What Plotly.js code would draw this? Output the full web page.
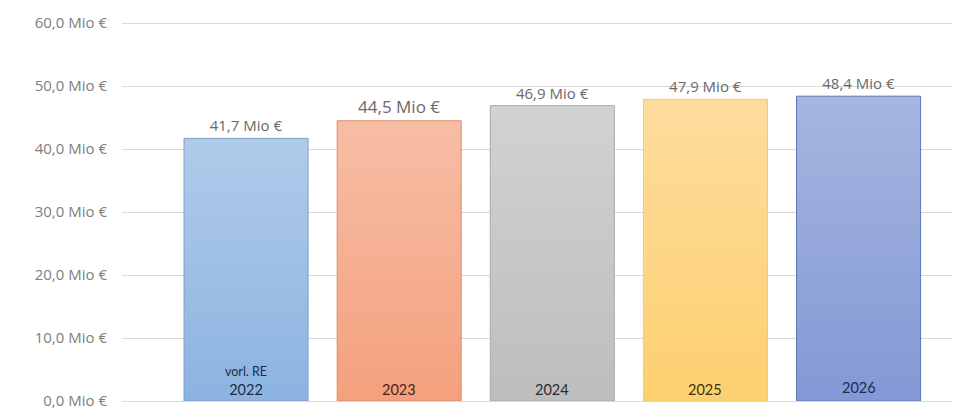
<!DOCTYPE html>
<html>
<head>
<meta charset="utf-8">
<script src="https://cdn.plot.ly/plotly-3.0.1.min.js"></script>
<style>html,body{margin:0;padding:0;background:#fff;}#chart{width:965px;height:417px;}</style>
</head>
<body>
<div id="chart"></div>
<script>
// Data
var categories = ["2022", "2023", "2024", "2025", "2026"];
var subLabels = ["vorl. RE", "", "", "", ""];
var values = [41.7, 44.5, 46.9, 47.9, 48.4];
var yTicks = [0, 10, 20, 30, 40, 50, 60];
var yTickLabels = ["0,0 Mio €", "10,0 Mio €", "20,0 Mio €", "30,0 Mio €", "40,0 Mio €", "50,0 Mio €", "60,0 Mio €"];
var valueLabels = ["41,7 Mio €", "44,5 Mio €", "46,9 Mio €", "47,9 Mio €", "48,4 Mio €"];

// Styles
var topColors = ["#b0cbea", "#f7bda5", "#d2d2d2", "#fddc9e", "#a6b6e0"];
var bottomColors = ["#8cb3e0", "#f4a07d", "#bdbdbd", "#fdd06f", "#8398d5"];
var lineColors = ["#7d9fcc", "#dc8f6c", "#a9a9a9", "#f2cf5c", "#5d76b5"];
var labelColors = ["#1d2b4a", "#4a2416", "#2b2b2b", "#3e2f10", "#1f2c4f"];
var valueFontSizes = [15, 17, 15, 15, 15];
var labelShift = [1, 1, 1, 1, 3];
var FONT = "'Open Sans', Lato, sans-serif";
var CAT_FONT = "Lato, 'Open Sans', sans-serif";

var trace = {
  type: "bar",
  x: categories,
  y: values,
  width: 0.81,
  marker: {color: topColors, line: {color: lineColors, width: 1}},
  text: valueLabels,
  texttemplate: "%{text}",
  textposition: "outside",
  cliponaxis: false,
  textfont: {family: FONT, size: valueFontSizes, color: "#6a6a6a"},
  hoverinfo: "skip"
};

var annotations = [];
for (var i = 0; i < categories.length; i++) {
  var txt = subLabels[i] ? "<span style='font-size:12.5px'>" + subLabels[i] + "</span><br>" + categories[i] : categories[i];
  annotations.push({
    x: i, y: 0, xref: "x", yref: "y",
    yanchor: "bottom", yshift: labelShift[i], showarrow: false,
    text: txt,
    font: {family: CAT_FONT, size: 14.5, color: labelColors[i]},
    align: "center"
  });
}

var layout = {
  width: 965, height: 417,
  margin: {l: 122, r: 13, t: 20, b: 16},
  paper_bgcolor: "#fff", plot_bgcolor: "#fff",
  showlegend: false,
  font: {family: FONT, color: "#808080"},
  xaxis: {type: "category", range: [-0.81, 4.61], showticklabels: false, showgrid: false, zeroline: false, ticks: "", fixedrange: true},
  yaxis: {
    range: [0, 60.5], tickmode: "array", tickvals: yTicks, ticktext: yTickLabels,
    showgrid: true, gridcolor: "#d9d9d9", gridwidth: 1,
    zeroline: true, zerolinecolor: "#d9d9d9", zerolinewidth: 1,
    ticks: "", ticklabelstandoff: 14,
    tickfont: {family: FONT, size: 15, color: "#808080"}, fixedrange: true
  },
  annotations: annotations
};

Plotly.newPlot("chart", [trace], layout, {displayModeBar: false, staticPlot: true}).then(function(gd) {
  var svg = gd.querySelector("svg.main-svg");
  var ns = "http://www.w3.org/2000/svg";
  var defs = svg.querySelector("defs") || svg.insertBefore(document.createElementNS(ns, "defs"), svg.firstChild);
  for (var i = 0; i < categories.length; i++) {
    var g = document.createElementNS(ns, "linearGradient");
    g.setAttribute("id", "barGrad" + i);
    g.setAttribute("x1", "0"); g.setAttribute("y1", "0");
    g.setAttribute("x2", "0"); g.setAttribute("y2", "1");
    var s1 = document.createElementNS(ns, "stop");
    s1.setAttribute("offset", "0"); s1.setAttribute("stop-color", topColors[i]);
    var s2 = document.createElementNS(ns, "stop");
    s2.setAttribute("offset", "1"); s2.setAttribute("stop-color", bottomColors[i]);
    g.appendChild(s1); g.appendChild(s2);
    defs.appendChild(g);
  }
  var paths = gd.querySelectorAll(".barlayer .point path");
  paths.forEach(function(p, i) { p.style.fill = "url(#barGrad" + i + ")"; });
});
</script>
</body>
</html>
